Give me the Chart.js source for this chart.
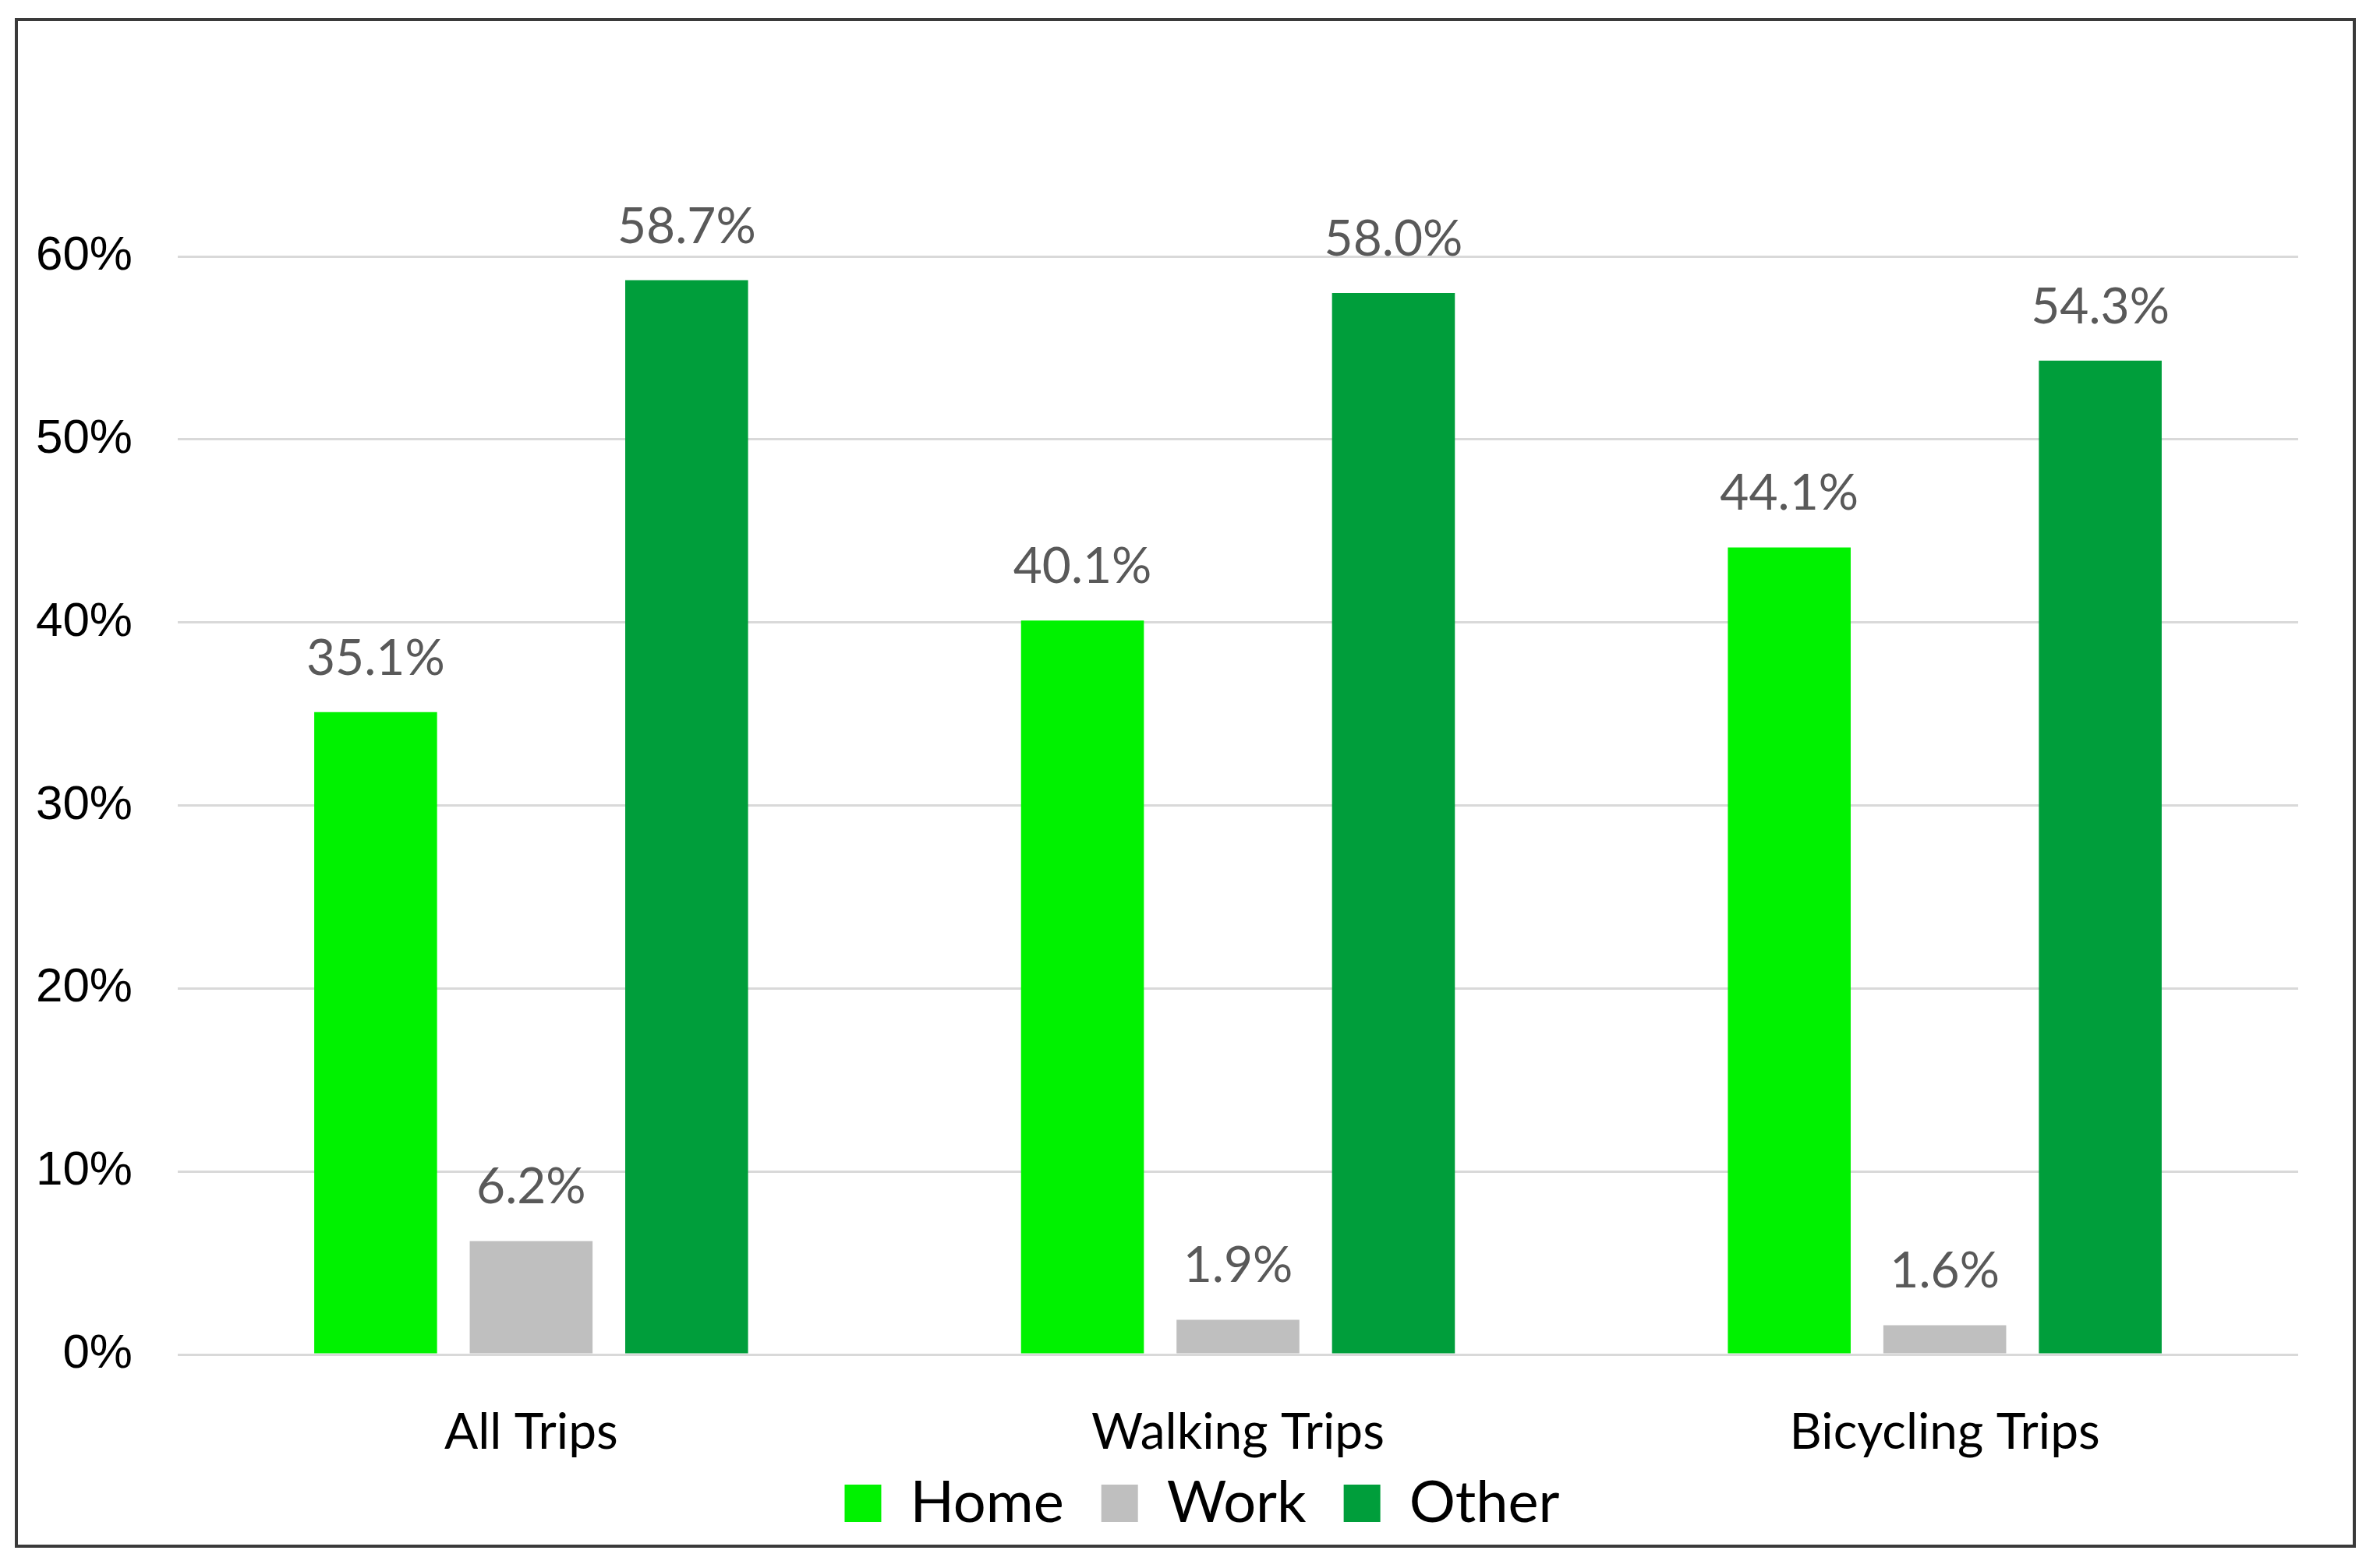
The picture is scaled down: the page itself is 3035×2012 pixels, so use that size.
<!DOCTYPE html>
<html>
<head>
<meta charset="utf-8">
<script src="https://cdn.jsdelivr.net/npm/chart.js@4.4.1/dist/chart.umd.min.js"></script>
<style>
  html, body { margin: 0; padding: 0; background: #ffffff; }
  #wrap { position: relative; width: 3035px; height: 2012px; }
  #frame { position: absolute; left: 19px; top: 23px; width: 3003px; height: 1963px;
           box-sizing: border-box; border: 4px solid #3a3a3a; pointer-events: none; }
  canvas { position: absolute; left: 0; top: 0; }
</style>
</head>
<body>
<div id="wrap">
  <canvas id="c" width="3035" height="2012"></canvas>
  <div id="frame"></div>
</div>
<script>
const categories = ['All Trips', 'Walking Trips', 'Bicycling Trips'];
const seriesNames = ['Home', 'Work', 'Other'];
const homeValues = [35.1, 40.1, 44.1];
const workValues = [6.2, 1.9, 1.6];
const otherValues = [58.7, 58.0, 54.3];
const yTicks = [0, 10, 20, 30, 40, 50, 60];
const seriesColors = ['#00F200', '#BFBFBF', '#009E3B'];

const dataLabelPlugin = {
  id: 'dataLabels',
  afterDatasetsDraw(chart) {
    const ctx = chart.ctx;
    ctx.save();
    ctx.font = '64px Lato';
    ctx.fillStyle = '#595959';
    ctx.textAlign = 'center';
    ctx.textBaseline = 'alphabetic';
    chart.data.datasets.forEach((ds, di) => {
      const meta = chart.getDatasetMeta(di);
      meta.data.forEach((el, i) => {
        ctx.fillText(ds.data[i].toFixed(1) + '%', el.x, el.y - 48);
      });
    });
    ctx.restore();
  }
};

// place the legend box below the category labels, centred like the original
const legendPlacePlugin = {
  id: 'legendPlace',
  afterLayout(chart) {
    const lg = chart.legend;
    if (!lg) return;
    const h = lg.height;
    lg.top = 1844; lg.bottom = 1844 + h;
    lg.left = 136;
  }
};

const datasets = [homeValues, workValues, otherValues].map((vals, i) => ({
  label: seriesNames[i],
  data: vals,
  backgroundColor: seriesColors[i],
  borderWidth: 0,
  categoryPercentage: 0.66,
  barPercentage: 0.79
}));

new Chart(document.getElementById('c'), {
  type: 'bar',
  data: { labels: categories, datasets },
  plugins: [dataLabelPlugin, legendPlacePlugin],
  options: {
    responsive: false,
    devicePixelRatio: 1,
    animation: false,
    layout: { padding: { left: 20, right: 87, top: 329, bottom: 2 } },
    plugins: {
      tooltip: { enabled: false },
      legend: {
        position: 'bottom',
        labels: {
          boxWidth: 47,
          boxHeight: 48,
          padding: 48,
          color: '#000000',
          font: { family: 'Lato', size: 74 }
        }
      }
    },
    scales: {
      x: {
        grid: { display: false, drawTicks: false },
        border: { display: false },
        ticks: { color: '#000000', padding: 62, font: { family: 'Lato', size: 64 } },
        afterFit(s) { s.height = 140; }
      },
      y: {
        min: 0,
        max: 60,
        afterBuildTicks(s) { s.ticks = yTicks.map(v => ({ value: v })); },
        grid: { color: '#D9D9D9', lineWidth: 3, drawTicks: false },
        border: { display: false },
        ticks: {
          color: '#000000',
          padding: 58,
          font: { family: 'Liberation Sans', size: 62 },
          callback: v => v + '%'
        },
        afterFit(s) { s.width = 208; }
      }
    }
  }
});
</script>
</body>
</html>
